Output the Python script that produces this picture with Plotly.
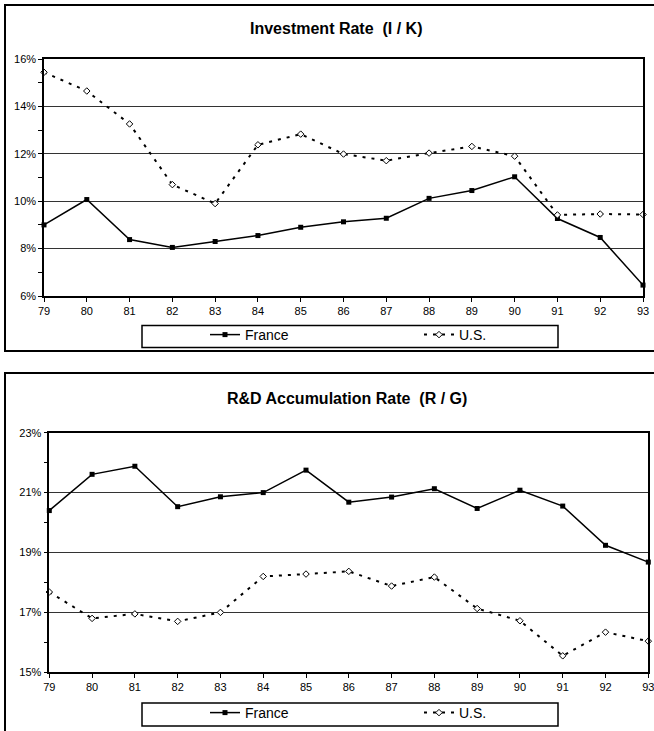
import plotly.graph_objects as go

# ---------------- data ----------------
years = [79, 80, 81, 82, 83, 84, 85, 86, 87, 88, 89, 90, 91, 92, 93]
year_labels = [str(y) for y in years]

inv_france = [9.0, 10.07, 8.38, 8.05, 8.3, 8.55, 8.9, 9.13, 9.28, 10.12, 10.45, 11.03, 9.27, 8.47, 6.46]
inv_us = [15.44, 14.65, 13.26, 10.7, 9.9, 12.38, 12.83, 11.99, 11.71, 12.03, 12.31, 11.9, 9.42, 9.46, 9.44]

rd_france = [20.4, 21.61, 21.88, 20.53, 20.86, 21.0, 21.75, 20.68, 20.85, 21.13, 20.47, 21.08, 20.55, 19.24, 18.68]
rd_us = [17.68, 16.8, 16.95, 16.7, 17.0, 18.2, 18.28, 18.37, 17.88, 18.18, 17.13, 16.72, 15.55, 16.34, 16.04]

title_top = "Investment Rate  (I / K)"
title_bottom = "R&D Accumulation Rate  (R / G)"
series_names = ["France", "U.S."]

# ---------------- layout helpers ----------------
W, H = 654, 731
FONT = "Liberation Sans, Arial, sans-serif"


def px(x):
    return x / W


def py(y):
    return 1 - y / H


fig = go.Figure()

france_style = dict(mode="lines+markers", line=dict(color="black", width=1.5),
                    marker=dict(symbol="square", size=5, color="black"))
us_style = dict(mode="lines+markers", line=dict(color="black", width=2, dash="3px,6px"),
                marker=dict(symbol="diamond", size=5, color="white",
                            line=dict(color="black", width=1)))

fig.add_trace(go.Scatter(x=years, y=inv_france, name=series_names[0], xaxis="x", yaxis="y",
                         legend="legend", cliponaxis=False, **france_style))
fig.add_trace(go.Scatter(x=years, y=inv_us, name=series_names[1], xaxis="x", yaxis="y",
                         legend="legend", cliponaxis=False, **us_style))
fig.add_trace(go.Scatter(x=years, y=rd_france, name=series_names[0], xaxis="x2", yaxis="y2",
                         legend="legend2", cliponaxis=False, **france_style))
fig.add_trace(go.Scatter(x=years, y=rd_us, name=series_names[1], xaxis="x2", yaxis="y2",
                         legend="legend2", cliponaxis=False, **us_style))

xcommon = dict(tickvals=years, ticktext=year_labels, ticks="outside", ticklen=4,
               tickcolor="black", showgrid=False, showline=True, mirror=True,
               linecolor="black", linewidth=1.5, zeroline=False,
               ticklabeloverflow="allow",
               tickfont=dict(family=FONT, size=11, color="black"))
ycommon = dict(ticks="outside", ticklen=4, tickcolor="black", ticksuffix="%",
               showgrid=True, gridcolor="#333333", gridwidth=1,
               showline=True, mirror=True, linecolor="black", linewidth=1.5,
               zeroline=False, dtick=2,
               minor=dict(ticks="outside", ticklen=4, dtick=1, tickcolor="black", showgrid=False),
               tickfont=dict(family=FONT, size=11, color="black"))

legcommon = dict(orientation="h", xanchor="left", yanchor="top",
                 borderwidth=0, bgcolor="rgba(0,0,0,0)",
                 font=dict(family=FONT, size=14, color="black"),
                 entrywidth=169, entrywidthmode="pixels", itemwidth=30,
                 tracegroupgap=0)

box_line = dict(color="black", width=1.5)

fig.update_layout(
    width=W, height=H,
    margin=dict(l=0, r=0, t=0, b=0, autoexpand=False),
    paper_bgcolor="white", plot_bgcolor="white",
    xaxis=dict(domain=[px(44), px(643)], range=[79, 93], anchor="y", **xcommon),
    yaxis=dict(domain=[py(296), py(59)], range=[6, 16], anchor="x", **ycommon),
    xaxis2=dict(domain=[px(49.3), px(648.3)], range=[79, 93], anchor="y2", **xcommon),
    yaxis2=dict(domain=[py(672.3), py(432.7)], range=[15, 23], anchor="x2", tick0=15, **ycommon),
    legend=dict(x=px(205), y=py(319), **legcommon),
    legend2=dict(x=px(205), y=py(697), **legcommon),
    showlegend=True,
    shapes=[
        dict(type="rect", xref="paper", yref="paper", x0=px(5), x1=px(670), y0=py(351), y1=py(5),
             line=dict(color="black", width=2), layer="below"),
        dict(type="rect", xref="paper", yref="paper", x0=px(5), x1=px(670), y0=py(760), y1=py(373),
             line=dict(color="black", width=2), layer="below"),
        dict(type="rect", xref="paper", yref="paper", x0=px(142), x1=px(558), y0=py(347.5), y1=py(325.5),
             line=box_line, fillcolor="white", layer="below"),
        dict(type="rect", xref="paper", yref="paper", x0=px(142), x1=px(558), y0=py(726), y1=py(703),
             line=box_line, fillcolor="white", layer="below"),
    ],
    annotations=[
        dict(text="<b>" + title_top + "</b>", xref="paper", yref="paper", x=px(248), y=py(29),
             xanchor="left", yanchor="middle", showarrow=False,
             font=dict(family=FONT, size=16, color="black")),
        dict(text="<b>" + title_bottom.replace("&", "&amp;") + "</b>", xref="paper", yref="paper",
             x=px(347), y=py(399), xanchor="center", yanchor="middle", showarrow=False,
             font=dict(family=FONT, size=16, color="black")),
    ],
)

fig.write_html("out.html")
